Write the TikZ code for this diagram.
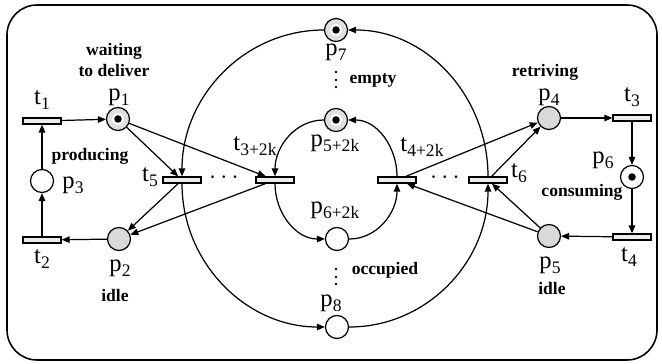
\documentclass[tikz,border=0pt]{standalone}
\usepackage{fontspec}
\setmainfont{Liberation Serif}
\usepackage{tikz}
\usetikzlibrary{arrows.meta}

\newcommand{\subidx}[1]{\raisebox{-0.45ex}{\fontsize{10}{10}\selectfont #1}}

\begin{document}
\begin{tikzpicture}[x=0.02cm,y=-0.02cm,
    plc/.style={circle,draw,line width=0.7pt,minimum size=0.46cm,inner sep=0pt,fill=white},
    gry/.style={fill=gray!30},
    tok/.style={fill=gray!25,path picture={
        \fill[white] (path picture bounding box.center) circle (0.12cm);
        \fill[black] (path picture bounding box.center) circle (0.075cm);}},
    wtok/.style={path picture={
        \fill[black] (path picture bounding box.center) circle (0.075cm);}},
    trn/.style={rectangle,draw,line width=0.7pt,fill=gray!15,minimum width=0.76cm,minimum height=0.12cm,inner sep=0pt},
    arr/.style={line width=0.7pt,-{Triangle[length=1.6mm,width=1.3mm]}},
    lbl/.style={inner sep=0pt,font=\fontsize{14}{14}\selectfont},
    txt/.style={inner sep=0pt,align=center,font=\bfseries\fontsize{10}{11.5}\selectfont}]
  \useasboundingbox (0,0) rectangle (662,364);
  \draw[line width=0.9pt,rounded corners=0.6cm] (7,5) rectangle (657,360);

  % producer side
  \node[trn] (t1) at (42,121) {};
  \node[trn] (t2) at (42,240) {};
  \node[plc] (p3) at (42,181) {};
  \node[plc,tok] (p1) at (118,119) {};
  \node[plc,gry] (p2) at (119,239) {};

  % buffer transitions
  \node[trn] (t5) at (182,180) {};
  \node[trn] (t32k) at (275,180) {};
  \node[trn] (t42k) at (397,180) {};
  \node[trn] (t6) at (488,180) {};
  \node[lbl] (dl) at (224,178) {$\cdots$};
  \node[lbl] (dr) at (445,178) {$\cdots$};

  % buffer places
  \node[plc,tok] (p7) at (336,30) {};
  \node[plc,tok] (p52k) at (336,120) {};
  \node[plc] (p62k) at (337,239) {};
  \node[plc] (p8) at (337,327) {};

  % consumer side
  \node[plc,gry] (p4) at (549,118) {};
  \node[trn] (t3) at (632,118) {};
  \node[plc,wtok] (p6) at (632,177) {};
  \node[trn] (t4) at (632,237) {};
  \node[plc,gry] (p5) at (549,236) {};

  % vertical dots between the ring places
  \foreach \y in {72,80,87,269,277,284}
    \fill (336,\y) circle (1.3);

  % labels
  \node[lbl] (lt1) at (42,100) {t\subidx{1}};
  \node[lbl] (lp1) at (119,97) {p\subidx{1}};
  \node[txt] (lwait) at (114,60) {waiting\\to deliver};
  \node[txt] (lprod) at (90,156) {producing};
  \node[lbl] (lp3) at (73,185) {p\subidx{3}};
  \node[lbl] (lt2) at (42,259) {t\subidx{2}};
  \node[lbl] (lp2) at (120,268) {p\subidx{2}};
  \node[txt] (lidle1) at (115,295) {idle};
  \node[lbl] (lt5) at (150,177) {t\subidx{5}};
  \node[lbl] (lt32k) at (255,146) {t\subidx{3+2k}};
  \node[lbl] (lp52k) at (335,143) {p\subidx{5+2k}};
  \node[lbl] (lp7) at (336,52) {p\subidx{7}};
  \node[txt] (lempty) at (373,80) {empty};
  \node[lbl] (lt42k) at (422,147) {t\subidx{4+2k}};
  \node[lbl] (lt6) at (519,173) {t\subidx{6}};
  \node[lbl] (lp62k) at (335,210) {p\subidx{6+2k}};
  \node[txt] (locc) at (385,270) {occupied};
  \node[lbl] (lp8) at (331,303) {p\subidx{8}};
  \node[txt] (lret) at (545,72) {retriving};
  \node[lbl] (lp4) at (549,97) {p\subidx{4}};
  \node[lbl] (lt3) at (632,97) {t\subidx{3}};
  \node[lbl] (lp6) at (603,160) {p\subidx{6}};
  \node[txt] (lcons) at (582,192) {consuming};
  \node[lbl] (lt4) at (629,257) {t\subidx{4}};
  \node[lbl] (lp5) at (550,265) {p\subidx{5}};
  \node[txt] (lidle2) at (552,288) {idle};

  % straight arcs
  \draw[arr] (t1) -- (p1);
  \draw[arr] (t2) -- (p3);
  \draw[arr] (p3) -- (t1);
  \draw[arr] (p2) -- (t2);
  \draw[arr] (p1) -- (t5);
  \draw[arr] (p1) -- (t32k);
  \draw[arr] (t5) -- (p2);
  \draw[arr] (t32k) -- (p2);
  \draw[arr] (t42k) -- (p4);
  \draw[arr] (t6) -- (p4);
  \draw[arr] (p4) -- (t3);
  \draw[arr] (t3) -- (p6);
  \draw[arr] (p6) -- (t4);
  \draw[arr] (t4) -- (p5);
  \draw[arr] (p5) -- (t6);
  \draw[arr] (p5) -- (t42k);

  % outer ring
  \draw[arr] (p7) to[out=180,in=90] (t5);
  \draw[arr] (t5) to[out=-90,in=180] (p8);
  \draw[arr] (p8) to[out=0,in=-90] (t6);
  \draw[arr] (t6) to[out=90,in=0] (p7);
  % inner ring
  \draw[arr] (p52k) to[out=180,in=90] (t32k);
  \draw[arr] (t32k) to[out=-90,in=180] (p62k);
  \draw[arr] (p62k) to[out=0,in=-90] (t42k);
  \draw[arr] (t42k) to[out=90,in=0] (p52k);
\end{tikzpicture}
\end{document}
